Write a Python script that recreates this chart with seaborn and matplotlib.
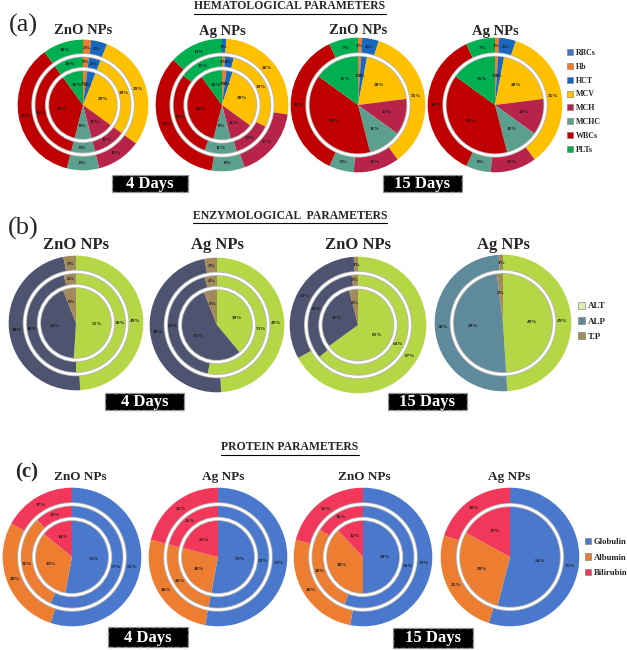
import matplotlib
matplotlib.use("Agg")
import matplotlib.pyplot as plt
import seaborn as sns
from matplotlib.patches import Patch, Circle, Rectangle
from matplotlib.lines import Line2D

# ---------------- DATA ----------------
hema_params = ["RBCs", "Hb", "HCT", "MCV", "MCH", "MCHC", "WBCs", "PLTs"]
hema_colors = ["#3F74C6", "#ED7D31", "#1868C0", "#FFC000", "#B8234A", "#5BA08C", "#C00000", "#00B050"]
hema_zno_4d_inner = [0, 2, 4, 29, 11, 8, 36, 10]
hema_zno_4d_mid = [0, 2, 4, 29, 11, 8, 36, 10]
hema_zno_4d_outer = [0, 2, 4, 29, 11, 8, 36, 10]
hema_ag_4d_inner = [0, 2, 3, 30, 11, 8, 36, 10]
hema_ag_4d_mid = [0, 1, 3, 29, 13, 11, 30, 15]
hema_ag_4d_outer = [0, 0, 1, 26, 17, 8, 34, 13]
hema_zno_15d_inner = [0, 1, 2, 20, 12, 11, 39, 15]
hema_zno_15d_outer = [0, 1, 4, 35, 11, 6, 36, 7]
hema_ag_15d_inner = [0, 1, 2, 20, 12, 11, 39, 15]
hema_ag_15d_outer = [0, 1, 4, 35, 11, 6, 36, 7]

enz_params = ["ALT", "ALP", "T.P"]
enz_colors = ["#B5D645", "#4E5370", "#A38A5C"]
enz_colors_alt = ["#B5D645", "#5F8A9C", "#A38A5C"]
enz_zno_4d_inner = [51, 43, 6]
enz_zno_4d_mid = [50, 46, 4]
enz_zno_4d_outer = [49, 48, 3]
enz_ag_4d_inner = [39, 55, 6]
enz_ag_4d_mid = [53, 43, 4]
enz_ag_4d_outer = [49, 48, 3]
enz_zno_15d_inner = [65, 31, 4]
enz_zno_15d_mid = [64, 34, 2]
enz_zno_15d_outer = [67, 32, 1]
enz_ag_15d_inner = [49, 49, 2]
enz_ag_15d_outer = [49, 50, 1]

prot_params = ["Globulin", "Albumin", "Bilirubin"]
prot_colors = ["#4A78CC", "#ED7D31", "#F2385A"]
prot_zno_4d_inner = [53, 33, 14]
prot_zno_4d_mid = [57, 31, 12]
prot_zno_4d_outer = [55, 28, 17]
prot_ag_4d_inner = [53, 26, 21]
prot_ag_4d_mid = [53, 26, 21]
prot_ag_4d_outer = [53, 26, 21]
prot_zno_15d_inner = [50, 38, 12]
prot_zno_15d_mid = [56, 28, 16]
prot_zno_15d_outer = [53, 26, 21]
prot_ag_15d_inner = [54, 29, 17]
prot_ag_15d_outer = [55, 25, 20]

pie_titles = ["ZnO NPs", "Ag NPs", "ZnO NPs", "Ag NPs"]
day_labels = ["4 Days", "15 Days"]
section_titles = ["HEMATOLOGICAL PARAMETERS", "ENZYMOLOGICAL  PARAMETERS", "PROTEIN PARAMETERS"]
panel_labels = ["(a)", "(b)", "(c)"]

# ---------------- STYLE ----------------
sns.set_theme(style="white")
plt.rcParams["font.family"] = ["Liberation Serif", "DejaVu Serif"]

W, H = 627, 650
fig = plt.figure(figsize=(W / 100, H / 100), dpi=100)
fig.patch.set_facecolor("white")

R3 = [0.55, 0.76, 1.0]
R2 = [0.75, 1.0]


def pie_axes(cx, cy, R):
    return fig.add_axes([(cx - R) / W, 1 - (cy + R) / H, 2 * R / W, 2 * R / H])


def draw_rings(ax, rings, colors, radii, fs=3.8):
    pal = sns.color_palette(colors)
    prev = 0.0
    for vals, r in zip(rings, radii):
        labels = [f"{v}%" if v > 0 else "" for v in vals]
        if prev == 0.0:
            wp = dict(edgecolor="none", linewidth=0)
            ld = 0.58
        else:
            wp = dict(width=r - prev, edgecolor="none", linewidth=0)
            ld = (r + prev) / 2 / r
        _, texts = ax.pie(vals, radius=r, colors=pal, startangle=90, counterclock=False,
                          labels=labels, labeldistance=ld, wedgeprops=wp,
                          textprops=dict(fontsize=fs, fontweight="bold", color="#1a1a1a"))
        for t in texts:
            t.set_ha("center")
            t.set_va("center")
        prev = r
    for r in radii[:-1]:
        ax.add_patch(Circle((0, 0), r, fill=False, ec="#b5b5b5", lw=3.0, zorder=5))
        ax.add_patch(Circle((0, 0), r, fill=False, ec="white", lw=1.8, zorder=6))
    ax.set_xlim(-1.01, 1.01)
    ax.set_ylim(-1.01, 1.01)
    ax.set_aspect("equal")
    ax.axis("off")


def ftext(x, y, s, **kw):
    return fig.text(x / W, 1 - y / H, s, **kw)


def day_box(x0, x1, y0, y1, label):
    fig.add_artist(Rectangle((x0 / W, 1 - y1 / H), (x1 - x0) / W, (y1 - y0) / H,
                             transform=fig.transFigure, facecolor="black",
                             edgecolor="#9a9a9a", linestyle="--", linewidth=1.0))
    ftext((x0 + x1) / 2, (y0 + y1) / 2 + 0.5, label, color="white", fontsize=12,
          fontweight="bold", ha="center", va="center")


def legend(x, y, labels, colors, fs, spacing):
    handles = [Patch(facecolor=c, edgecolor="#777777", linewidth=0.4, label=l)
               for l, c in zip(labels, colors)]
    fig.legend(handles=handles, loc="upper left", bbox_to_anchor=(x / W, 1 - y / H),
               frameon=False, prop=dict(family="Liberation Serif", weight="bold", size=fs),
               handlelength=0.75, handleheight=0.75, handletextpad=0.3,
               labelspacing=spacing, borderaxespad=0, borderpad=0)


# ---------------- PANEL A ----------------
a_centers = [(83, 105), (222, 105), (358, 105), (495, 105)]
a_R = [66, 67, 68, 68]
a_rings = [
    ([hema_zno_4d_inner, hema_zno_4d_mid, hema_zno_4d_outer], R3),
    ([hema_ag_4d_inner, hema_ag_4d_mid, hema_ag_4d_outer], R3),
    ([hema_zno_15d_inner, hema_zno_15d_outer], R2),
    ([hema_ag_15d_inner, hema_ag_15d_outer], R2),
]
for (cx, cy), R, (rings, radii) in zip(a_centers, a_R, a_rings):
    draw_rings(pie_axes(cx, cy, R), rings, hema_colors, radii)
for (cx, _), t in zip(a_centers, pie_titles):
    ftext(cx, 31, t, fontsize=10.5, fontweight="bold", ha="center", va="center")
legend(567, 49, hema_params, hema_colors, 5.8, 0.72)
day_box(112, 188, 175, 192, day_labels[0])
day_box(383, 462, 175, 192, day_labels[1])

# ---------------- PANEL B ----------------
b_centers = [(76, 323), (217, 325), (358, 325), (503, 323)]
b_R = [68, 68, 69, 69]
b_rings = [
    ([enz_zno_4d_inner, enz_zno_4d_mid, enz_zno_4d_outer], R3, enz_colors),
    ([enz_ag_4d_inner, enz_ag_4d_mid, enz_ag_4d_outer], R3, enz_colors),
    ([enz_zno_15d_inner, enz_zno_15d_mid, enz_zno_15d_outer], R3, enz_colors),
    ([enz_ag_15d_inner, enz_ag_15d_outer], R2, enz_colors_alt),
]
for (cx, cy), R, (rings, radii, cols) in zip(b_centers, b_R, b_rings):
    draw_rings(pie_axes(cx, cy, R), rings, cols, radii)
for (cx, _), t in zip(b_centers, pie_titles):
    ftext(cx, 245, t, fontsize=12, fontweight="bold", ha="center", va="center")
legend(578, 302, enz_params, ["#DDEFB0", "#5F8A9C", "#A38A5C"], 6.5, 0.75)
day_box(105, 184, 393, 410, day_labels[0])
day_box(388, 467, 393, 410, day_labels[1])

# ---------------- PANEL C ----------------
c_centers = [(72, 557), (218, 557), (363, 557), (510, 557)]
c_R = [70, 70, 70, 70]
c_rings = [
    ([prot_zno_4d_inner, prot_zno_4d_mid, prot_zno_4d_outer], R3),
    ([prot_ag_4d_inner, prot_ag_4d_mid, prot_ag_4d_outer], R3),
    ([prot_zno_15d_inner, prot_zno_15d_mid, prot_zno_15d_outer], R3),
    ([prot_ag_15d_inner, prot_ag_15d_outer], R2),
]
for (cx, cy), R, (rings, radii) in zip(c_centers, c_R, c_rings):
    draw_rings(pie_axes(cx, cy, R), rings, prot_colors, radii)
for x, t in zip([80, 223, 364, 509], pie_titles):
    ftext(x, 477, t, fontsize=9.5, fontweight="bold", ha="center", va="center")
legend(585, 538, prot_params, prot_colors, 6.2, 0.85)
day_box(108, 188, 627, 647, day_labels[0])
day_box(393, 473, 628, 648, day_labels[1])

# ---------------- HEADERS ----------------
fig.canvas.draw()
renderer = fig.canvas.get_renderer()
for y, s in zip([6, 216, 447], section_titles):
    t = ftext(290, y, s, fontsize=8.5, fontweight="bold", ha="center", va="center")
    bb = t.get_window_extent(renderer=renderer)
    yl = (bb.y0 - 1.5) / fig.bbox.height
    fig.add_artist(Line2D([bb.x0 / fig.bbox.width, bb.x1 / fig.bbox.width], [yl, yl],
                          transform=fig.transFigure, color="black", lw=0.8))

ftext(23, 25, panel_labels[0], fontsize=19, ha="center", va="center")
ftext(23, 228, panel_labels[1], fontsize=19, ha="center", va="center")
ftext(27, 472, panel_labels[2], fontsize=15, fontweight="bold", ha="center", va="center")

fig.savefig("out.png", dpi=100)
